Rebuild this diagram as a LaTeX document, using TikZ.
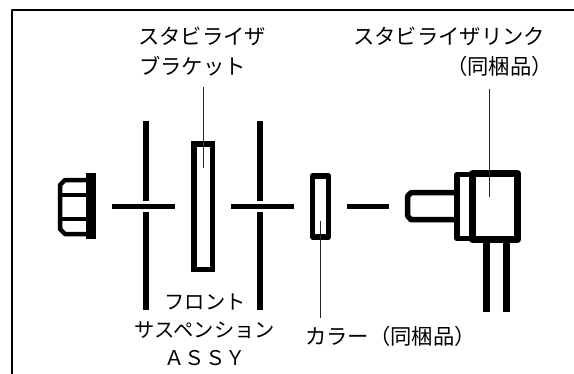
\documentclass[tikz,border=0pt]{standalone}
\usepackage{fontspec}
\newfontfamily\jpfont{Noto Sans CJK JP}
\tikzset{
  x=0.75pt,y=-0.75pt,
  lbl/.style={font=\jpfont\fontsize{16pt}{18pt}\selectfont,inner sep=0pt,text=black},
  lblb/.style={font=\jpfont\fontsize{15.2pt}{18pt}\selectfont,inner sep=0pt,text=black},
  thick part/.style={line width=#1*0.75pt,draw=black,line join=round},
  leader/.style={line width=0.75pt,draw=black!85},
}
\begin{document}
\begin{tikzpicture}
\useasboundingbox (0,0) rectangle (574,374);
\draw[thick part=2] (12,374) -- (12,10) -- (574,10);
% nut
\fill[black] (86,173) rectangle (96,239);
\draw[thick part=4.5] (86,180) -- (65,180) -- (60,185) -- (60,229) -- (65,234) -- (86,234);
\draw[thick part=4] (60,195) -- (86,195);
\draw[thick part=4] (60,218.5) -- (86,218.5);
% plates
\coordinate (p1t) at (146,121); \coordinate (p1a) at (146,201); \coordinate (p1b) at (146,212); \coordinate (p1e) at (146,310);
\coordinate (p2t) at (260,121); \coordinate (p2a) at (260,201); \coordinate (p2b) at (260,212); \coordinate (p2e) at (260,310);
\draw[thick part=6] (p1t) -- (p1a) (p1b) -- (p1e) (p2t) -- (p2a) (p2b) -- (p2e);
\draw[thick part=5] (112,206.5) -- (175,206.5) (231,206.5) -- (294,206.5) (347,206.5) -- (389,206.5);
% bracket
\draw[thick part=5.5,line join=miter] (193.8,143.8) rectangle (212.5,269.5);
% collar
\draw[thick part=5.5] (312.7,175.8) rectangle (328.5,237);
% link
\draw[thick part=5.5] (455,192.7) -- (411,192.7) -- (407.7,196) -- (407.7,216) -- (411,219.7) -- (455,219.7);
\draw[thick part=5.5] (470,174.7) -- (457,174.7) -- (457,238.5) -- (470,238.5);
\draw[thick part=7] (472.5,173.5) rectangle (517.5,239.5);
\draw[thick part=6.5,line join=miter] (486.5,243) -- (486.5,312) (506.5,243) -- (506.5,312);
% leaders
\coordinate (l1) at (203,87); \coordinate (l1e) at (203,168);
\coordinate (l2) at (320,221); \coordinate (l2e) at (320,318);
\coordinate (l3) at (489,89); \coordinate (l3e) at (489,197);
\draw[leader] (l1) -- (l1e) (l2) -- (l2e) (l3) -- (l3e);
% text
\node[lbl] (t1) at (202,36) {スタビライザ};
\node[lbl,anchor=west] (t2) at (139,66) {ブラケット};
\node[lbl] (t3) at (449,36) {スタビライザリンク};
\node[lbl,anchor=east] (t4) at (553,66) {（同梱品）};
\node[lblb] (t5) at (205,302) {フロント};
\node[lblb] (t6) at (205,330) {サスペンション};
\node[lblb] (t7) at (205,358) {ＡＳＳＹ};
\node[lbl,anchor=west] (t8) at (305,336) {カラー（同梱品）};
\end{tikzpicture}
\end{document}
